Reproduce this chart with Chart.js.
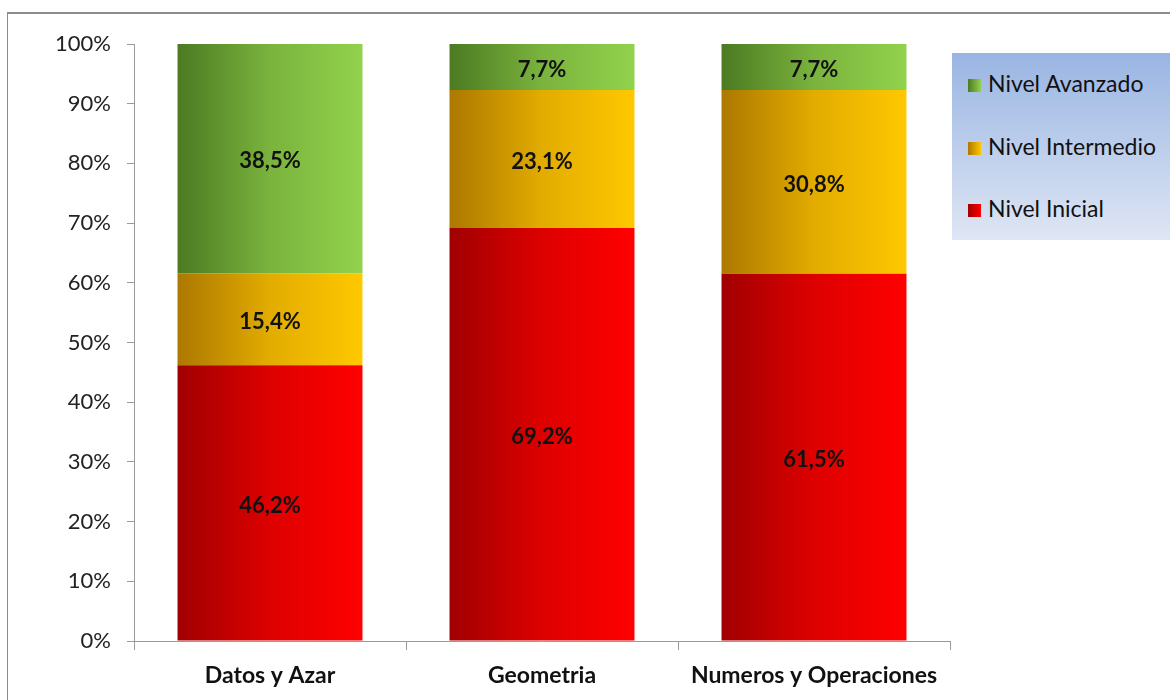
<!DOCTYPE html>
<html>
<head>
<meta charset="utf-8">
<script src="https://cdn.jsdelivr.net/npm/chart.js@4.4.1/dist/chart.umd.min.js"></script>
<style>
  html,body{margin:0;padding:0;background:#fff;width:1170px;height:700px;overflow:hidden;}
  #wrap{position:absolute;left:0;top:0;width:1170px;height:700px;}
  #frame{position:absolute;left:7px;top:12px;width:1200px;height:720px;border-left:1px solid #8c8c8c;border-top:2px solid #8c8c8c;box-sizing:border-box;}
  canvas{position:absolute;left:0;top:0;}
  #legend{position:absolute;left:952px;top:53px;width:230px;height:187px;background:linear-gradient(to bottom,#99b5e3,#dfe6f4);font-family:Lato,"Open Sans",sans-serif;font-size:23px;color:#111;}
  .li{position:absolute;left:16px;height:26px;line-height:26px;white-space:nowrap;}
  .sw{display:inline-block;width:13px;height:13px;margin-right:7px;vertical-align:0px;}
</style>
</head>
<body>
<div id="wrap">
  <div id="frame"></div>
  <canvas id="c" width="1170" height="700"></canvas>
  <div id="legend"></div>
</div>
<script>
const categories = ['Datos y Azar', 'Geometria', 'Numeros y Operaciones'];
const seriesNames = ['Nivel Inicial', 'Nivel Intermedio', 'Nivel Avanzado'];
const nivelInicial = [46.2, 69.2, 61.5];
const nivelIntermedio = [15.4, 23.1, 30.8];
const nivelAvanzado = [38.5, 7.7, 7.7];
const yTickLabels = ['0%','10%','20%','30%','40%','50%','60%','70%','80%','90%','100%'];

const palette = [
  ['#a00000', '#ff0000'],
  ['#ac7800', '#ffc800'],
  ['#4c7a22', '#92d24c']
];
const BAR_FRACTION = 0.68;

function grad(ctx, idx) {
  const chart = ctx.chart;
  const xs = chart.scales && chart.scales.x;
  const [dark, light] = palette[idx];
  if (!xs || !chart.chartArea || ctx.dataIndex === undefined) return light;
  const cx = xs.getPixelForValue(ctx.dataIndex);
  const half = (xs.width / categories.length) * BAR_FRACTION / 2;
  const g = chart.ctx.createLinearGradient(cx - half, 0, cx + half, 0);
  g.addColorStop(0, dark);
  g.addColorStop(0.5, mix(dark, light, 0.65));
  g.addColorStop(1, light);
  return g;
}
function mix(a, b, t) {
  const pa = [1,3,5].map(i => parseInt(a.substr(i,2),16));
  const pb = [1,3,5].map(i => parseInt(b.substr(i,2),16));
  return 'rgb(' + pa.map((v,i) => Math.round(v + (pb[i]-v)*t)).join(',') + ')';
}

const seriesData = [nivelInicial, nivelIntermedio, nivelAvanzado];
const datasets = seriesData.map((d, i) => ({
  label: seriesNames[i],
  data: d,
  backgroundColor: (ctx) => grad(ctx, i),
  borderWidth: 0,
  barPercentage: 1,
  categoryPercentage: BAR_FRACTION
}));

const FONT = 'Lato, "Open Sans", sans-serif';

const valueLabels = {
  id: 'valueLabels',
  afterDatasetsDraw(chart) {
    const c = chart.ctx;
    c.save();
    c.font = 'bold 22px ' + FONT;
    c.fillStyle = '#111';
    c.textAlign = 'center';
    c.textBaseline = 'middle';
    chart.data.datasets.forEach((ds, i) => {
      const meta = chart.getDatasetMeta(i);
      meta.data.forEach((bar, j) => {
        const v = ds.data[j];
        const y = (bar.y + bar.base) / 2;
        c.fillText(v.toFixed(1).replace('.', ',') + '%', bar.x, y + 3);
      });
    });
    c.restore();
  }
};

new Chart(document.getElementById('c'), {
  type: 'bar',
  data: { labels: categories, datasets },
  plugins: [valueLabels],
  options: {
    responsive: false,
    animation: false,
    layout: { padding: { left: 40, right: 220, top: 44, bottom: 0 } },
    plugins: { legend: { display: false }, tooltip: { enabled: false } },
    scales: {
      x: {
        stacked: true,
        offset: true,
        grid: { display: true, drawOnChartArea: false, offset: true, tickLength: 9, color: '#9a9a9a' },
        border: { color: '#9a9a9a', width: 1 },
        ticks: { color: '#111', font: { family: FONT, size: 23, weight: 'bold' }, padding: 12, maxRotation: 0 },
        afterFit(scale) { scale.height = 59; }
      },
      y: {
        stacked: true,
        min: 0,
        max: 100,
        grid: { display: true, drawOnChartArea: false, tickLength: 7, color: '#9a9a9a' },
        border: { color: '#9a9a9a', width: 1 },
        ticks: {
          stepSize: 10,
          color: '#222',
          font: { family: FONT, size: 22 },
          padding: 16,
          callback: (v, i) => yTickLabels[i]
        },
        afterFit(scale) { scale.width = 94; }
      }
    }
  }
});

// legend
const legend = document.getElementById('legend');
const tops = [17, 80, 142];
[2, 1, 0].forEach((si, k) => {
  const d = document.createElement('div');
  d.className = 'li';
  d.style.top = tops[k] + 'px';
  const [dark, light] = palette[si];
  d.innerHTML = '<span class="sw" style="background:linear-gradient(to right,' + dark + ',' + light + ')"></span>' + seriesNames[si];
  legend.appendChild(d);
});
</script>
</body>
</html>
